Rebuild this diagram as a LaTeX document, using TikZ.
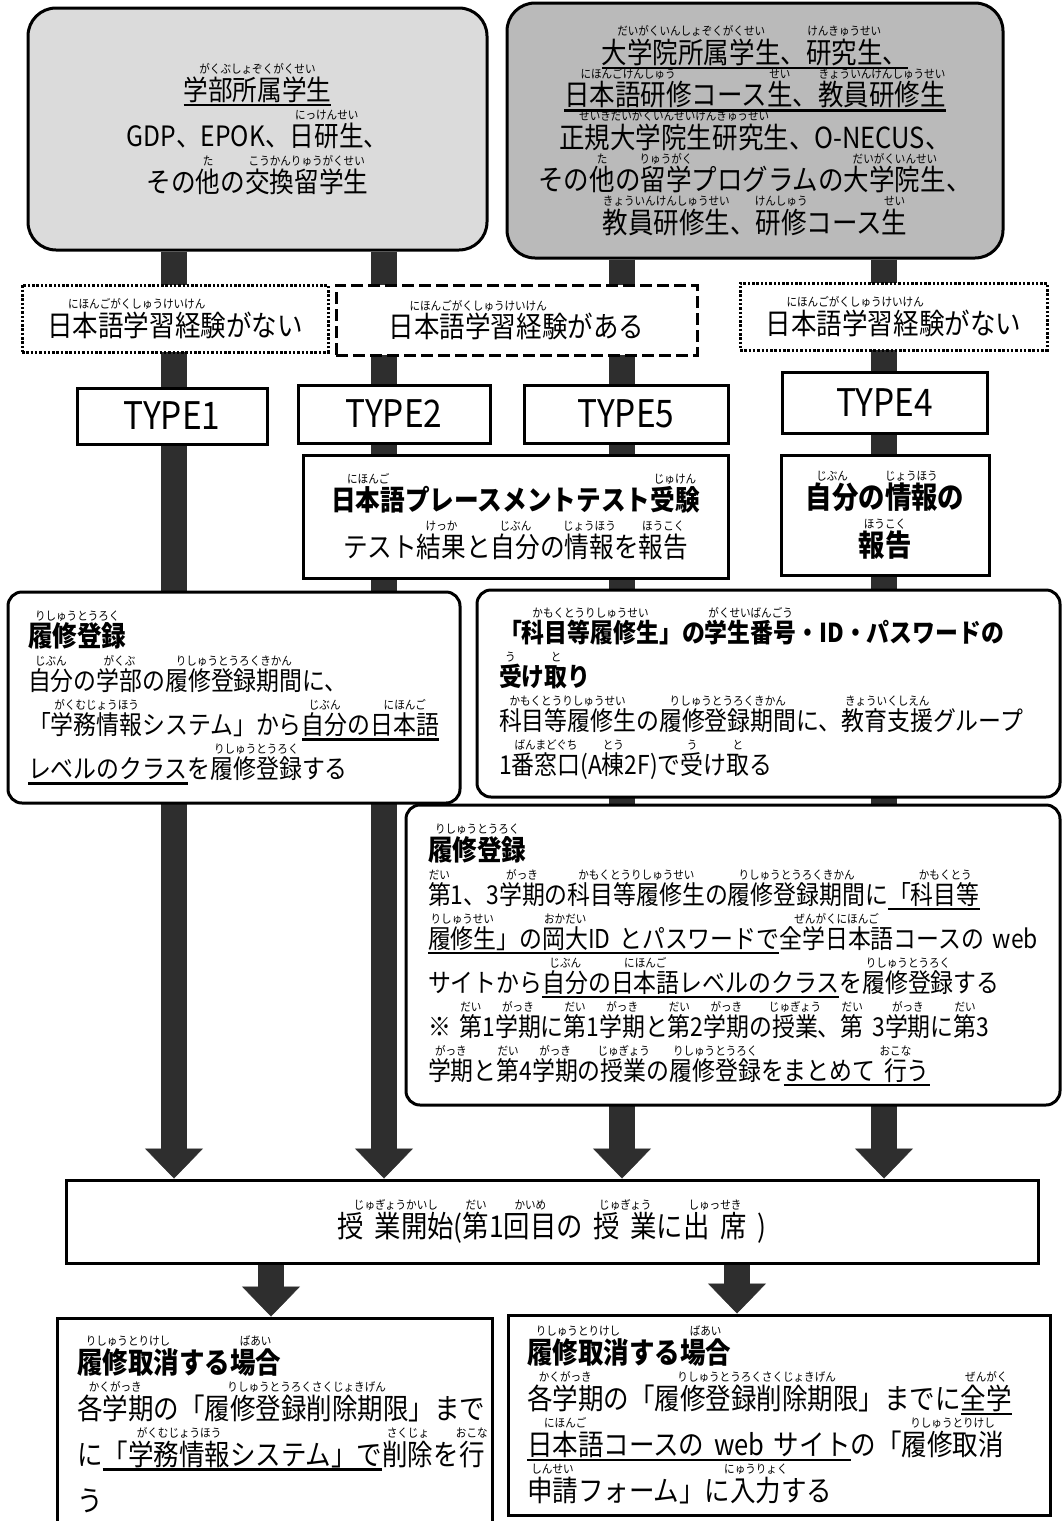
\documentclass[tikz,border=0pt]{standalone}
\usepackage{fontspec}
\setmainfont{Noto Sans CJK JP}[FakeStretch=0.88]
\usetikzlibrary{arrows.meta,backgrounds}

\newcommand{\rubyfont}{\fontsize{12}{12}\selectfont\mdseries}
\newcommand{\furi}[2]{\leavevmode\setbox2\hbox{#1}\rlap{\makebox[\wd2]{\raisebox{0.95em}{\rubyfont #2}}}\box2\relax}
\newcommand{\undl}[1]{\leavevmode\setbox0\hbox{#1}\rlap{\rule[-6pt]{\wd0}{2.6pt}}\box0\relax}
\newcommand{\bighead}[1]{{\fontsize{28}{44}\selectfont\bfseries #1}}
\newcommand{\gap}{\hspace{.35em}}

\tikzset{
  topbox/.style={draw, line width=3pt, rounded corners=28pt, inner sep=0pt},
  sqbox/.style={draw, line width=3pt, fill=white, inner sep=0pt},
  rdbox/.style={sqbox, rounded corners=14pt},
  dotbox/.style={sqbox, dash pattern=on 2.5pt off 1.8pt},
  dashbox/.style={sqbox, dash pattern=on 12pt off 5pt},
  sz/.style args={#1/#2}{font=\fontsize{#1}{#2}\selectfont},
  bar/.style={line width=26pt, draw=black!82,
    -{Triangle[width=58pt,length=30pt,line width=0.5pt]}}
}

\begin{document}
\lineskiplimit=-100pt
\begin{tikzpicture}[x=1pt,y=-1pt]
\useasboundingbox (0,0) rectangle (1062,1521);
\coordinate (c1) at (174,0);
\coordinate (c2) at (384,0);
\coordinate (c3) at (622,0);
\coordinate (c4) at (884,0);
\coordinate (b1) at (271,0);
\coordinate (b2) at (737,0);

% who enrols
\node[topbox, fill=black!14, minimum width=459pt, minimum height=242pt, align=center, sz=28/46] (under) at (257.5,129)
  {\undl{\furi{学部所属学生}{がくぶしょぞくがくせい}}\\
   GDP、EPOK、\furi{日研生}{にっけんせい}、\\
   その\furi{他}{た}の\furi{交換留学生}{こうかんりゅうがくせい}};
\node[topbox, fill=black!27, minimum width=496pt, minimum height=255pt, align=center, sz=29/42.5] (grad) at (755,130.5)
  {\undl{\furi{大学院所属学生}{だいがくいんしょぞくがくせい}、\furi{研究生}{けんきゅうせい}、}\\
   \undl{\furi{日本語研修}{にほんごけんしゅう}コース\furi{生}{せい}、\furi{教員研修生}{きょういんけんしゅうせい}}\\
   \furi{正規大学院生研究生}{せいきだいがくいんせいけんきゅうせい}、O-NECUS、\\
   その\furi{他}{た}の\furi{留学}{りゅうがく}プログラムの\furi{大学院生}{だいがくいんせい}、\\
   \furi{教員研修生}{きょういんけんしゅうせい}、\furi{研修}{けんしゅう}コース\furi{生}{せい}};

% experience
\node[dotbox, minimum width=306pt, minimum height=67pt, sz=29/40] (noexpL) at (175,318.5)
  {\furi{日本語学習経験}{にほんごがくしゅうけいけん}がない};
\node[dashbox, minimum width=361pt, minimum height=70pt, sz=29/40] (expd) at (516.5,320)
  {\furi{日本語学習経験}{にほんごがくしゅうけいけん}がある};
\node[dotbox, minimum width=307pt, minimum height=67pt, sz=29/40] (noexpR) at (893.5,316.5)
  {\furi{日本語学習経験}{にほんごがくしゅうけいけん}がない};

% types
\node[sqbox, minimum width=190pt, minimum height=56pt, sz=38/40] (type1) at (172,416) {TYPE1};
\node[sqbox, minimum width=192pt, minimum height=58pt, sz=38/40] (type2) at (394,414) {TYPE2};
\node[sqbox, minimum width=204pt, minimum height=58pt, sz=38/40] (type5) at (626,414) {TYPE5};
\node[sqbox, minimum width=205pt, minimum height=61pt, sz=38/40] (type4) at (884.5,402.5) {TYPE4};

\node[sqbox, minimum width=425pt, minimum height=123pt, align=center, sz=28/47] (place) at (515.5,516.5)
  {\textbf{\furi{日本語}{にほんご}プレースメントテスト\furi{受験}{じゅけん}}\\
   テスト\furi{結果}{けっか}と\furi{自分}{じぶん}の\furi{情報}{じょうほう}を\furi{報告}{ほうこく}};
\node[sqbox, minimum width=208pt, minimum height=120pt, align=center, sz=30/48] (info) at (885,515)
  {\textbf{\furi{自分}{じぶん}の\furi{情報}{じょうほう}の}\\
   \textbf{\furi{報告}{ほうこく}}};

% registration
\node[rdbox, minimum width=452pt, minimum height=211pt, inner xsep=20pt, text width=412pt, align=left, sz=26/44] (regL) at (234,697.5)
  {\bighead{\furi{履修登録}{りしゅうとうろく}}\\
   \furi{自分}{じぶん}の\furi{学部}{がくぶ}の\furi{履修登録期間}{りしゅうとうろくきかん}に、\\
   「\furi{学務情報}{がくむじょうほう}システム」から\undl{\furi{自分}{じぶん}の\furi{日本語}{にほんご}}\\
   \undl{レベルのクラス}を\furi{履修登録}{りしゅうとうろく}する};
\node[rdbox, minimum width=583pt, minimum height=207pt, inner xsep=22pt, text width=539pt, align=left, sz=26/44] (recv) at (768.5,693.5)
  {\textbf{「\furi{科目等履修生}{かもくとうりしゅうせい}」の\furi{学生番号}{がくせいばんごう}・ID・パスワードの}\\
   \textbf{\furi{受}{う}け\furi{取}{と}り}\\
   \furi{科目等履修生}{かもくとうりしゅうせい}の\furi{履修登録期間}{りしゅうとうろくきかん}に、\furi{教育支援}{きょういくしえん}グループ\\
   1\furi{番窓口}{ばんまどぐち}(A\furi{棟}{とう}2F)で\furi{受}{う}け\furi{取}{と}る};
\node[rdbox, minimum width=654pt, minimum height=300pt, inner xsep=22pt, text width=610pt, align=left, sz=26/44] (regR) at (733,955)
  {\bighead{\furi{履修登録}{りしゅうとうろく}}\\
   \furi{第}{だい}1、3\furi{学期}{がっき}の\furi{科目等履修生}{かもくとうりしゅうせい}の\furi{履修登録期間}{りしゅうとうろくきかん}に\undl{「\furi{科目等}{かもくとう}}\\
   \undl{\furi{履修生}{りしゅうせい}」の\furi{岡大}{おかだい}ID とパスワードで}\furi{全学日本語}{ぜんがくにほんご}コースの web\\
   サイトから\undl{\furi{自分}{じぶん}の\furi{日本語}{にほんご}レベルのクラス}を\furi{履修登録}{りしゅうとうろく}する\\
   ※ \furi{第}{だい}1\furi{学期}{がっき}に\furi{第}{だい}1\furi{学期}{がっき}と\furi{第}{だい}2\furi{学期}{がっき}の\furi{授業}{じゅぎょう}、\furi{第}{だい} 3\furi{学期}{がっき}に\furi{第}{だい}3\\
   \furi{学期}{がっき}と\furi{第}{だい}4\furi{学期}{がっき}の\furi{授業}{じゅぎょう}の\furi{履修登録}{りしゅうとうろく}を\undl{まとめて \furi{行}{おこな}う}};

\node[sqbox, minimum width=972pt, minimum height=83pt, sz=30/40] (start) at (552,1221.5)
  {\furi{授\gap 業開始}{じゅぎょうかいし}(\furi{第}{だい}1\furi{回目}{かいめ}の\gap\furi{授\gap 業}{じゅぎょう}に\furi{出\gap 席}{しゅっせき}\gap)};

% cancelling
\node[sqbox, minimum width=435pt, minimum height=212pt, inner xsep=20pt, text width=395pt, align=left, sz=29/46] (dropL) at (274.5,1424)
  {\textbf{\furi{履修取消}{りしゅうとりけし}する\furi{場合}{ばあい}}\\
   \furi{各学期}{かくがっき}の「\furi{履修登録削除期限}{りしゅうとうろくさくじょきげん}」まで\\
   に\undl{「\furi{学務情報}{がくむじょうほう}システム」で}\furi{削除}{さくじょ}を\furi{行}{おこな}\\
   う};
\node[sqbox, minimum width=542pt, minimum height=200pt, inner xsep=19pt, text width=504pt, align=left, sz=29/46] (dropR) at (779,1415)
  {\textbf{\furi{履修取消}{りしゅうとりけし}する\furi{場合}{ばあい}}\\
   \furi{各学期}{かくがっき}の「\furi{履修登録削除期限}{りしゅうとうろくさくじょきげん}」までに\undl{\furi{全学}{ぜんがく}}\\
   \undl{\furi{日本語}{にほんご}コースの web サイト}の「\furi{履修取消}{りしゅうとりけし}\\
   \furi{申請}{しんせい}フォーム」に\furi{入力}{にゅうりょく}する};

\begin{pgfonlayer}{background}
\fill[white] (0,0) rectangle (1062,1521);
\draw[bar] (under.south -| c1) -- (start.north -| c1);
\draw[bar] (under.south -| c2) -- (start.north -| c2);
\draw[bar] (grad.south -| c3) -- (start.north -| c3);
\draw[bar] (grad.south -| c4) -- (start.north -| c4);
\draw[bar] (start.south -| b1) -- (dropL.north -| b1);
\draw[bar] (start.south -| b2) -- (dropR.north -| b2);
\end{pgfonlayer}
\end{tikzpicture}
\end{document}
